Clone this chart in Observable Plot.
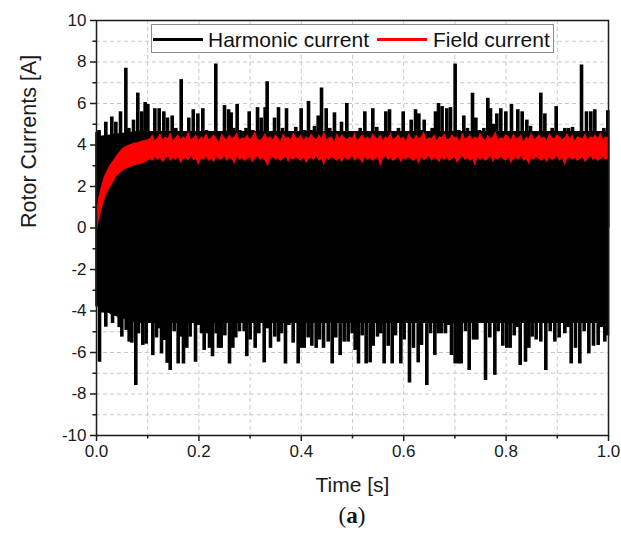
<!DOCTYPE html>
<html><head><meta charset="utf-8">
<script src="https://cdn.jsdelivr.net/npm/d3@7"></script>
<script src="https://cdn.jsdelivr.net/npm/@observablehq/plot@0.6"></script>
<style>
body{margin:0;background:#fff;font-family:"Liberation Sans",Arial,sans-serif;}
#wrap{position:relative;width:621px;height:540px;overflow:hidden;}
#leg{position:absolute;left:151px;top:24px;width:401px;height:27px;border:1px solid #8c8c8c;background:#fff;}
.ln{position:absolute;height:3px;top:37.5px;}
.tx{position:absolute;top:29px;font-size:21px;line-height:21px;color:#111;white-space:nowrap;}
#cap{position:absolute;left:352px;top:500px;transform:translateX(-50%);font-family:"Liberation Serif","DejaVu Serif",serif;font-size:23px;line-height:32px;color:#111;}
</style></head><body>
<div id="wrap"></div>
<script>
// axis ticks
const xTicks = [0, 0.2, 0.4, 0.6, 0.8, 1.0];
const xMinor = [0.1, 0.3, 0.5, 0.7, 0.9];
const xGrid = [0.1, 0.2, 0.3, 0.4, 0.5, 0.6, 0.7, 0.8, 0.9];
const yTicks = [-10, -8, -6, -4, -2, 0, 2, 4, 6, 8, 10];
const yMinor = [-9, -7, -5, -3, -1, 1, 3, 5, 7, 9];
const yGrid = [-9,-8,-7,-6,-5,-4,-3,-2,-1,0,1,2,3,4,5,6,7,8,9];

// Harmonic current: dense band core envelope
const coreT  = [0, 0.03, 0.08, 1.0];
const coreHi = [4.4, 4.5, 4.65, 4.65];
const coreLo = [-3.7, -4.2, -4.6, -4.6];

// Harmonic current: upper peaks [time, value]
const harmonicTop = [
[0.001,4.6],[0.005,4.7],[0.0117,4.2],[0.0182,5.1],[0.024,4.0],[0.0299,5.35],[0.0378,5.1],[0.0469,5.6],
[0.0573,7.7],[0.0632,4.8],[0.0723,5.2],[0.0807,6.5],[0.0885,5.6],[0.095,6.05],[0.1003,5.95],[0.106,4.5],
[0.114,5.75],[0.1224,5.75],[0.1315,5.6],[0.1387,5.3],[0.1478,5.4],[0.155,4.8],[0.1654,7.15],[0.172,4.6],
[0.1803,5.3],[0.189,5.7],[0.198,5.5],[0.2077,5.75],[0.215,4.7],[0.222,4.6],[0.233,7.9],[0.240,4.6],
[0.25,5.9],[0.258,5.7],[0.263,5.55],[0.268,4.8],[0.2747,5.95],[0.28,4.7],[0.286,4.6],[0.292,4.8],
[0.2982,5.6],[0.3053,4.7],[0.3145,5.8],[0.3216,5.3],[0.3294,5.8],
[0.3333,7.05],[0.3398,4.6],[0.3477,5.3],[0.3555,5.8],[0.3633,4.8],[0.3711,5.75],[0.3796,4.6],[0.3893,4.85],
[0.3997,5.75],[0.4063,4.7],[0.4141,6.1],[0.42,4.7],[0.4258,4.9],[0.433,5.4],[0.4395,6.75],[0.4486,5.75],
[0.4557,4.8],[0.4648,5.55],[0.472,4.6],[0.4785,5.1],[0.4889,6.0],[0.4967,4.6],[0.5059,4.5],[0.515,4.8],
[0.5241,5.6],[0.5319,4.6],[0.5397,5.75],[0.5475,4.85],[0.556,4.6],[0.5651,5.6],[0.5723,5.7],[0.5814,4.6],
[0.5898,4.8],[0.599,5.6],[0.6074,4.45],[0.6146,5.2],[0.6231,5.7],[0.6296,5.5],[0.6348,4.7],[0.64,5.2],
[0.6478,4.6],[0.6556,4.8],[0.6621,5.6],
[0.668,6.0],[0.675,5.85],[0.6842,5.75],[0.6914,5.8],[0.7005,7.9],[0.7077,4.7],[0.7174,5.4],[0.7246,4.8],
[0.7344,6.5],[0.7409,5.3],[0.748,4.7],[0.7565,4.8],[0.7643,6.25],[0.7695,5.75],[0.776,5.0],[0.7819,5.5],
[0.7897,5.75],[0.7995,5.6],[0.806,4.6],[0.8105,5.95],[0.8177,4.6],[0.8229,5.7],[0.8314,5.6],[0.8405,5.2],
[0.8477,4.9],[0.8561,4.6],[0.8678,6.5],[0.8757,5.5],[0.8822,4.6],[0.89,4.8],[0.8978,5.85],[0.9056,4.6],
[0.9147,4.8],[0.9219,4.8],[0.9297,4.85],[0.9368,4.6],[0.9473,7.85],[0.957,5.6],[0.9655,5.6],[0.9733,5.7],
[0.9831,4.4],[0.9909,4.8],[0.9987,5.65]
];

// Harmonic current: lower peaks [time, value]
const harmonicBottom = [
[0.001,-3.8],[0.0059,-6.47],[0.0117,-4.1],[0.0182,-4.78],[0.0247,-4.1],[0.0313,-4.6],[0.0378,-4.2],[0.0443,-4.8],
[0.0495,-5.26],[0.058,-4.94],[0.0638,-5.5],[0.069,-5.55],[0.0768,-7.59],[0.082,-5.1],[0.0905,-5.66],[0.097,-5.6],
[0.1029,-4.6],[0.11,-6.15],[0.1172,-5.3],[0.1224,-4.86],[0.127,-6.07],[0.1325,-5.42],[0.138,-6.52],[0.1439,-6.87],
[0.1517,-5.0],[0.1595,-6.55],[0.1647,-5.26],[0.1699,-6.55],[0.1764,-5.8],[0.1829,-5.26],[0.1934,-6.47],[0.1999,-4.7],
[0.2051,-5.1],[0.2103,-5.9],[0.2168,-5.1],[0.2207,-5.8],[0.2266,-6.2],[0.2337,-5.1],[0.2383,-5.8],[0.2435,-5.8],
[0.2507,-5.2],[0.2598,-6.55],[0.2663,-5.8],[0.2721,-5.3],[0.2793,-5.0],[0.2884,-5.0],[0.2936,-6.2],[0.3001,-5.4],
[0.3099,-5.8],[0.3171,-5.1],[0.3275,-6.5],
[0.3346,-4.86],[0.3398,-5.8],[0.3483,-5.26],[0.3555,-5.5],[0.3613,-5.1],[0.3691,-6.55],[0.3757,-4.7],[0.3841,-5.55],
[0.3939,-6.55],[0.3997,-5.8],[0.4056,-5.8],[0.4134,-5.3],[0.4206,-5.7],[0.429,-5.8],[0.4355,-5.4],[0.4434,-5.8],
[0.4525,-5.5],[0.4603,-6.55],[0.4674,-5.3],[0.4759,-6.15],[0.4837,-5.5],[0.4915,-5.5],[0.4993,-5.1],[0.5052,-5.9],
[0.5117,-6.55],[0.5189,-5.2],[0.5267,-6.55],[0.5345,-6.5],[0.5404,-5.7],[0.5488,-5.26],[0.5553,-5.1],[0.5618,-6.55],
[0.5697,-5.7],[0.5775,-6.55],[0.584,-5.2],[0.5944,-6.55],[0.6009,-5.4],[0.6113,-7.47],[0.6191,-5.8],[0.6283,-6.5],
[0.6348,-5.66],[0.6452,-7.59],[0.6524,-5.1],[0.6608,-6.15],
[0.6673,-5.1],[0.6738,-5.1],[0.6816,-5.1],[0.6875,-4.7],[0.6934,-6.15],[0.7005,-6.55],[0.707,-6.55],[0.7122,-6.55],
[0.7207,-5.0],[0.7279,-6.87],[0.7363,-5.4],[0.7428,-5.4],[0.75,-4.5],[0.7598,-7.35],[0.7682,-5.3],[0.778,-7.1],
[0.7845,-5.0],[0.7936,-5.7],[0.8014,-5.8],[0.8079,-5.8],[0.8158,-5.2],[0.8215,-4.8],[0.8275,-6.63],[0.8379,-6.47],
[0.8444,-5.8],[0.8509,-5.26],[0.8587,-5.4],[0.8678,-5.5],[0.8776,-6.87],[0.8861,-5.0],[0.8952,-5.5],[0.9036,-5.3],
[0.9147,-5.1],[0.921,-4.8],[0.9271,-6.55],[0.9355,-5.8],[0.944,-6.55],[0.9525,-5.0],[0.9616,-6.07],[0.9707,-5.7],
[0.9798,-5.66],[0.9863,-4.8],[0.9928,-5.5],[0.998,-5.2]
];

// Field current band, sampled every 0.005 s (upper and lower edge)
const fieldStep = 0.005;
const fieldHi = [
0.8,1.5,2.0,2.45,2.7,2.95,3.15,3.3,3.5,3.65,3.8,3.9,3.95,4.0,4.05,4.1,4.1,4.15,4.2,4.2,4.25,
4.3,4.5,4.2,4.35,4.55,4.25,4.4,4.3,4.6,4.2,
4.35,4.5,4.25,4.4,4.3,4.65,4.25,4.35,4.5,4.2,
4.4,4.3,4.55,4.25,4.35,4.5,4.3,4.15,4.55,4.35,
4.25,4.5,4.3,4.4,4.6,4.2,4.35,4.3,4.5,4.25,
4.4,4.65,4.3,4.2,4.35,4.55,4.3,4.4,4.25,4.5,
4.35,4.15,4.55,4.3,4.4,4.25,4.6,4.35,4.3,4.5,
4.2,4.4,4.3,4.55,4.35,4.25,4.5,4.3,4.65,4.25,
4.35,4.4,4.15,4.55,4.3,4.5,4.35,4.25,4.4,4.3,
4.6,4.2,4.35,4.5,4.3,4.4,4.25,4.55,4.35,4.3,
4.5,4.2,4.4,4.3,4.6,4.25,4.35,4.5,4.3,4.4,
4.15,4.55,4.35,4.25,4.5,4.3,4.4,4.65,4.25,4.35,
4.3,4.5,4.2,4.4,4.35,4.55,4.25,4.3,4.5,4.35,
4.4,4.15,4.6,4.3,4.35,4.5,4.25,4.4,4.3,4.55,
4.35,4.2,4.5,4.3,4.4,4.65,4.25,4.35,4.3,4.5,
4.4,4.25,4.55,4.3,4.35,4.5,4.15,4.4,4.3,4.6,
4.25,4.35,4.5,4.3,4.4,4.2,4.55,4.35,4.3,4.5,
4.4,4.25,4.35,4.55,4.3,4.5,4.2,4.4,4.35,4.3,
4.55,4.25,4.4,4.35,4.5,4.3,4.6,4.25,4.4,4.35
];
const fieldLo = [
-0.4,0.3,0.8,1.25,1.6,1.85,2.05,2.25,2.5,2.6,2.7,2.8,2.85,2.9,2.95,3.0,3.05,3.05,3.1,3.15,3.2,
3.3,3.2,3.4,3.25,3.35,3.15,3.3,3.45,3.2,3.35,
3.25,3.4,3.1,3.3,3.35,3.2,3.45,3.25,3.3,3.0,
3.35,3.25,3.4,3.2,3.3,3.15,3.4,3.3,3.25,3.45,
3.2,3.35,3.3,3.05,3.4,3.25,3.35,3.2,3.3,3.4,
3.15,3.3,3.45,3.25,3.35,3.2,2.95,3.3,3.4,3.25,
3.35,3.2,3.3,3.45,3.15,3.35,3.25,3.4,3.3,3.2,
3.4,3.1,3.3,3.35,3.25,3.45,3.2,3.3,3.0,3.35,
3.25,3.4,3.3,3.2,3.35,3.15,3.4,3.25,3.3,3.45,
3.2,3.35,3.3,3.1,3.4,3.25,3.35,3.2,3.3,3.4,
2.95,3.3,3.45,3.25,3.35,3.2,3.3,3.4,3.15,3.35,
3.25,3.4,3.3,3.2,3.35,3.05,3.4,3.25,3.3,3.45,
3.2,3.35,3.3,3.15,3.4,3.25,3.35,3.2,3.3,3.4,
3.1,3.3,3.45,3.25,3.35,3.2,3.3,2.95,3.4,3.25,
3.35,3.2,3.3,3.45,3.15,3.35,3.25,3.4,3.3,3.2,
3.4,3.1,3.3,3.35,3.25,3.45,3.2,3.3,3.05,3.35,
3.25,3.4,3.3,3.2,3.35,3.15,3.4,3.25,3.3,3.45,
3.2,3.35,3.0,3.3,3.4,3.25,3.35,3.2,3.3,3.4,
3.15,3.3,3.45,3.25,3.35,3.2,3.3,3.4,3.25,3.35
];

const seriesNames = ["Harmonic current", "Field current"];
const seriesColors = ["#000000", "#ff0000"];

const core = coreT.map((t, i) => ({t, lo: coreLo[i], hi: coreHi[i]}));
const field = fieldHi.map((hi, i) => ({t: +(i * fieldStep).toFixed(4), hi, lo: fieldLo[i]}));

const font = '"Liberation Sans", Arial, sans-serif';
const chart = Plot.plot({
  width: 621, height: 500,
  marginTop: 20, marginRight: 13, marginBottom: 65, marginLeft: 96,
  style: {fontFamily: font, fontSize: "17px", color: "#1a1a1a", background: "#fff", overflow: "visible"},
  x: {domain: [0, 1]},
  y: {domain: [-10, 10]},
  marks: [
    Plot.ruleY(yGrid, {stroke: "#c9c9c9", strokeDasharray: "4,3", strokeWidth: 1}),
    Plot.ruleX(xGrid, {stroke: "#c9c9c9", strokeDasharray: "4,3", strokeWidth: 1}),
    Plot.areaY(core, {x: "t", y1: "lo", y2: "hi", fill: seriesColors[0]}),
    Plot.ruleX(harmonicTop, {x: d => d[0], y1: 0, y2: d => d[1], stroke: seriesColors[0], strokeWidth: 3.6}),
    Plot.ruleX(harmonicBottom, {x: d => d[0], y1: d => d[1], y2: 0, stroke: seriesColors[0], strokeWidth: 3.6}),
    Plot.areaY(field, {x: "t", y1: "lo", y2: "hi", fill: seriesColors[1]}),
    Plot.frame({stroke: "#1a1a1a", strokeWidth: 1.5}),
    Plot.axisX({ticks: xTicks, tickSize: 6, tickPadding: 3, strokeWidth: 1.5, tickFormat: d3.format(".1f"), label: null, fontSize: 17}),
    Plot.axisX({ticks: xMinor, tickSize: 3.5, strokeWidth: 1.5, tickFormat: () => "", label: null}),
    Plot.axisY({ticks: yTicks, tickSize: 6, tickPadding: 4, strokeWidth: 1.5, tickFormat: d => String(d), label: null, fontSize: 17}),
    Plot.axisY({ticks: yMinor, tickSize: 3.5, strokeWidth: 1.5, tickFormat: () => "", label: null}),
    Plot.text(["Time [s]"], {frameAnchor: "bottom", dy: 56, fontSize: 21, fill: "#1a1a1a"}),
    Plot.text(["Rotor Currents [A]"], {frameAnchor: "left", dx: -67, rotate: -90, fontSize: 21.5, fill: "#1a1a1a"})
  ]
});

const wrap = document.getElementById("wrap");
wrap.appendChild(chart);

// legend
const leg = document.createElement("div");
leg.id = "leg";
wrap.appendChild(leg);
const items = [
  {lineLeft: 153, textLeft: 208},
  {lineLeft: 377, textLeft: 433}
];
items.forEach((it, i) => {
  const ln = document.createElement("div");
  ln.className = "ln";
  ln.style.left = it.lineLeft + "px";
  ln.style.width = "50px";
  ln.style.background = seriesColors[i];
  wrap.appendChild(ln);
  const tx = document.createElement("div");
  tx.className = "tx";
  tx.style.left = it.textLeft + "px";
  tx.textContent = seriesNames[i];
  wrap.appendChild(tx);
});

const cap = document.createElement("div");
cap.id = "cap";
cap.innerHTML = "(<b>a</b>)";
wrap.appendChild(cap);
</script>
</body></html>
